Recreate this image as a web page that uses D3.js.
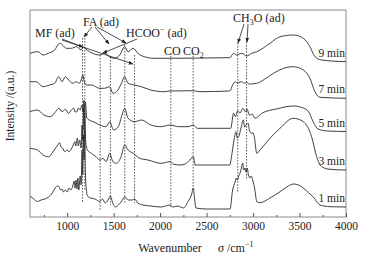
<!DOCTYPE html>
<html><head><meta charset="utf-8">
<script src="https://cdn.jsdelivr.net/npm/d3@7"></script>
<style>body{margin:0;background:#fff}svg{display:block}text{font-family:"Liberation Serif","Times New Roman",serif;fill:#222}</style>
</head><body><svg id="c" width="367" height="255"></svg>
<script>
// ---- data ----
const seriesNames = ["1 min","3 min","5 min","7 min","9 min"];
const offsets = [10, 47, 85.5, 119, 155.3];
const xTicks = [1000,1500,2000,2500,3000,3500,4000];
const minorTicks = [750,1250,1750,2250,2750,3250,3750];
const wn1 = [600,640,680,720,760,800,840,870,900,915,930,945,960,980,1000,1020,1040,1060,1075,1085,1095,1105,1115,1125,1140,1150,1160,1168,1175,1182,1188,1195,1205,1220,1250,1300,1350,1380,1410,1440,1465,1490,1520,1550,1580,1620,1660,1700,1725,1760,1816,1900,2010,2060,2106,2140,2190,2250,2300,2340,2357,2370,2386,2500,2650,2752,2780,2806,2820,2831,2845,2860,2875,2889,2900,2912,2925,2938,2950,2967,2980,2996,3020,3040,3075,3182,3290,3380,3433,3490,3541,3600,3648,3720,3828,4000];
const s1 = [11,8,5.5,7,8,10,14,19,21,20,17,18,15,17,15,19,17,21,26,19,27,18,29,17,31,22,57,32,72,47,77,37,19,11,9,8,5.5,8,4,7,11,4,0,2,5,10,7,7,8,4,2,1,0,1,2,0,1,-1,5.3,13,19,9,-1,-2,-2,-2,17,25,29,27,31,34,39,44,37,39,35,39,32,29,31,27,17,5.3,4.3,9,15.3,21,23,22,19,14,10,2,0.3,0];
const wn3 = [600,680,740,800,860,900,918,935,950,975,1000,1020,1050,1070,1081,1092,1109,1120,1135,1150,1160,1168,1176,1183,1190,1198,1217,1260,1310,1350,1385,1420,1457,1492,1528,1580,1619,1655,1710,1780,1870,2010,2106,2140,2215,2270,2320,2357,2378,2500,2750,2768,2795,2818,2830,2846,2870,2895,2910,2924,2948,2960,2984,3000,3013,3040,3075,3182,3290,3433,3541,3630,3684,3738,3828,4000];
const s3 = [21.7,20,15,13.3,20,25,27.3,23,22,18.3,20,18.3,22,26,28.3,24,32,24,30,22,45,30,62,40,60,30,20,16.7,13.3,10,11.7,8.3,16.7,8.3,6.7,13.3,25,20,16.7,11.7,10,6.7,8.3,6,5,6,10,13.3,5,5,5,13.3,30,38.3,32,33.3,42,50,43,45,46.7,40,36.7,37,33.3,16.7,20,31.7,41.7,51.7,48.3,33.3,13.3,3.3,0.7,0];
const wn5 = [600,680,750,820,875,910,945,980,1015,1045,1070,1085,1105,1120,1140,1160,1170,1180,1188,1196,1210,1260,1310,1350,1420,1457,1500,1550,1590,1619,1655,1725,1800,1900,2010,2106,2200,2300,2357,2400,2600,2760,2790,2810,2835,2860,2890,2920,2935,2960,2990,3020,3100,3250,3433,3541,3600,3648,3700,3800,4000];
const s5 = [19.8,21.5,16.5,14.8,19.8,23.2,19.8,22.2,18.2,21.5,23.2,19.5,19.8,23.5,21.5,26.5,19.5,31.5,21.5,29.5,13.5,10.5,8.5,6.5,4.8,9.8,1.5,4.8,16.5,23.2,13.2,9.8,11.5,6.5,4.8,6.5,4.8,4.8,6.5,3.2,3.2,3.2,18.2,14.8,20.8,18.5,23.2,19.8,22.5,16.5,17.5,13.2,18.5,22.5,25.5,23.5,19.5,9.5,2.5,0.5,0];
const wn7 = [600,665,740,810,865,909,945,980,1015,1060,1095,1130,1150,1168,1185,1206,1260,1350,1400,1457,1492,1546,1585,1619,1655,1725,1796,1900,2040,2106,2357,2420,2750,2780,2810,2830,2860,2880,2905,2930,2960,3040,3110,3220,3330,3433,3541,3612,3666,3720,4000];
const s7 = [16.3,16.3,11.3,13,14.7,21.3,16.3,21.3,18,14.7,16.3,14.7,18,23,16,13,13,9.7,9.7,11.3,4.7,8,15,21.3,14.7,13,11.3,8,6.3,7,7.3,6.3,7,13,16.3,14.7,16,16.3,14.7,15.7,14,14.7,18,24.7,29.7,31.3,28,19.7,6.3,0.7,-0.3];
const wn9 = [600,685,740,795,865,918,950,990,1045,1100,1150,1170,1190,1240,1350,1400,1457,1510,1565,1619,1655,1710,1760,1830,1935,2000,2750,2790,2820,2880,2930,2985,3040,3182,3290,3433,3541,3612,3666,3738,4000];
const s9 = [8.4,10,6.7,8.4,11.7,18.4,16.7,13.4,13.4,15,11.7,14.7,13.4,10,6.7,8.4,5,3.4,6.7,15,10,13.4,8.4,5,3.4,3.4,4,8.4,6.7,8.4,5.7,8.4,10,18.4,25,26.7,23.4,15,5,1.7,0];
const wnSets = [wn1, wn3, wn5, wn7, wn9];
const sigSets = [s1, s3, s5, s7, s9];
// marker lines: wavenumber, top intensity, bottom intensity
const markWn  = [1165,1190,1355,1465,1620,1725,2115,2355,2835,2930];
const markTop = [179,179,162,160,175,162,164,164,174,175];
const markBot = [15,27,6,12,14,14,10,27,25,37];

// ---- drawing ----
const svg = d3.select("#c");
const L=30, R=346, T=10, B=217;
const x = d3.scaleLinear().domain([600,4000]).range([L,R]);
const y = d3.scaleLinear().domain([0,207]).range([B,T]);

svg.append("rect").attr("x",L).attr("y",T).attr("width",R-L).attr("height",B-T)
  .attr("fill","none").attr("stroke","#8a8a8a").attr("stroke-width",1);

const ax = svg.append("g").attr("transform",`translate(0,${B})`)
  .call(d3.axisBottom(x).tickValues(xTicks).tickSizeInner(-4).tickSizeOuter(0).tickPadding(5).tickFormat(d3.format("d")));
ax.select(".domain").remove();
ax.selectAll("line").attr("stroke","#555");
ax.selectAll("text").attr("font-size","11.5px").attr("fill","#222").attr("font-family","Liberation Serif, serif");
const ax2 = svg.append("g").attr("transform",`translate(0,${B})`)
  .call(d3.axisBottom(x).tickValues(minorTicks).tickSizeInner(-2).tickSizeOuter(0).tickFormat(""));
ax2.select(".domain").remove();
ax2.selectAll("line").attr("stroke","#555");

markWn.forEach((w,i)=>{
  svg.append("line").attr("x1",x(w)).attr("x2",x(w)).attr("y1",y(markTop[i])).attr("y2",y(markBot[i]))
    .attr("stroke","#333").attr("stroke-width",0.8).attr("stroke-dasharray","1.6,1.4");
});

const line = d3.line().x(d=>x(d[0])).y(d=>y(d[1])).curve(d3.curveMonotoneX);
seriesNames.forEach((n,i)=>{
  const pts = wnSets[i].map((w,j)=>[w, offsets[i]+sigSets[i][j]]);
  svg.append("path").attr("d",line(pts)).attr("fill","none").attr("stroke","#2a2a2a").attr("stroke-width",0.9);
  svg.append("text").attr("x",345).attr("y",y(offsets[i])-5).attr("text-anchor","end")
    .attr("font-size","11.5px").text(n);
});

svg.append("text").attr("x",170).attr("y",252).attr("text-anchor","middle").attr("font-size","12px").text("Wavenumber");
const st = svg.append("text").attr("x",218).attr("y",252).attr("font-size","12px");
st.append("tspan").attr("font-style","italic").text("σ");
st.append("tspan").text(" /cm");
st.append("tspan").attr("font-size","8px").attr("dy",-5).text("−1");
svg.append("text").attr("transform","translate(14,106) rotate(-90)").attr("text-anchor","middle")
  .attr("font-size","11.5px").text("Intensity /(a.u.)");

const fs="12px";
svg.append("text").attr("x",35).attr("y",37).attr("font-size",fs).text("MF (ad)");
svg.append("text").attr("x",83).attr("y",26).attr("font-size",fs).text("FA (ad)");
const hc = svg.append("text").attr("x",126).attr("y",37).attr("font-size",fs);
hc.append("tspan").text("HCOO");
hc.append("tspan").attr("font-size","8px").attr("dy",-5).text("−");
hc.append("tspan").attr("dy",5).text(" (ad)");
svg.append("text").attr("x",164).attr("y",55).attr("font-size",fs).text("CO");
const co2 = svg.append("text").attr("x",183).attr("y",55).attr("font-size",fs);
co2.append("tspan").text("CO");
co2.append("tspan").attr("font-size","8px").attr("dy",3).text("2");
const ch = svg.append("text").attr("x",233).attr("y",22).attr("font-size",fs);
ch.append("tspan").text("CH");
ch.append("tspan").attr("font-size","8px").attr("dy",3).text("3");
ch.append("tspan").attr("dy",-3).text("O (ad)");

const defs = svg.append("defs");
defs.append("marker").attr("id","ah").attr("viewBox","0 0 10 10").attr("refX",9).attr("refY",5)
  .attr("markerWidth",6).attr("markerHeight",6).attr("orient","auto-start-reverse")
  .append("path").attr("d","M0,1 L10,5 L0,9 z").attr("fill","#222");
const arrows = [
  [62,39,83,47],[62,40,133,64],
  [92,27,84,37],[95,27,109,44],[97,27,126,43],
  [137,39,103,53],
  [244,24,238,43],[248,24,247,42]
];
arrows.forEach(a=>svg.append("line").attr("x1",a[0]).attr("y1",a[1]).attr("x2",a[2]).attr("y2",a[3])
  .attr("stroke","#222").attr("stroke-width",0.8).attr("marker-end","url(#ah)"));
</script></body></html>
